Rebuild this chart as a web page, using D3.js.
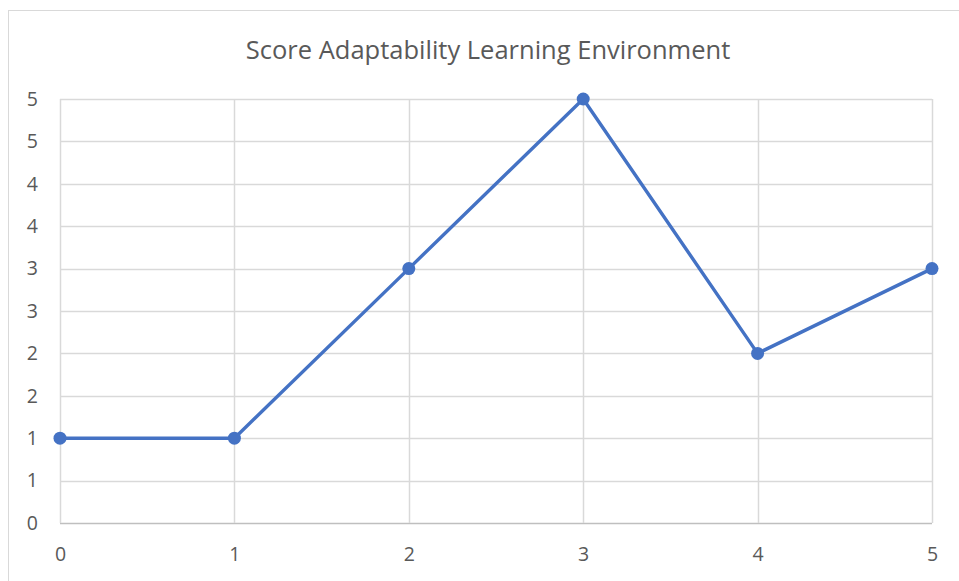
<!DOCTYPE html>
<html>
<head>
<meta charset="utf-8">
<script src="https://cdn.jsdelivr.net/npm/d3@7"></script>
<style>
  body { margin: 0; background: #fff; }
  text { font-family: "Open Sans", "Noto Sans", sans-serif; fill: #595959; }
</style>
</head>
<body>
<svg width="959" height="581"></svg>
<script>
"use strict";

const title = "Score Adaptability Learning Environment";
const xValues = [0, 1, 2, 3, 4, 5];
const yValues = [1, 1, 3, 5, 2, 3];
const yTicks = [0, 0.5, 1, 1.5, 2, 2.5, 3, 3.5, 4, 4.5, 5];

const svg = d3.select("svg");
const margin = { left: 60, right: 27, top: 99, bottom: 58 };
const width = +svg.attr("width");
const height = +svg.attr("height");

// chart border
svg.append("rect")
    .attr("x", 8.5).attr("y", 10.5)
    .attr("width", 960).attr("height", 600)
    .attr("fill", "none")
    .attr("stroke", "#d9d9d9");

const x = d3.scaleLinear()
    .domain([0, 5])
    .range([margin.left, width - margin.right]);

const y = d3.scaleLinear()
    .domain([0, 5])
    .range([height - margin.bottom, margin.top]);

// gridlines
svg.append("g")
    .selectAll("line")
    .data(yTicks)
    .enter().append("line")
    .attr("x1", x(0)).attr("x2", x(5))
    .attr("y1", d => Math.round(y(d)) + 0.5)
    .attr("y2", d => Math.round(y(d)) + 0.5)
    .attr("stroke", d => d === 0 ? "#bfbfbf" : "#d9d9d9")
    .attr("stroke-width", 1.5);

svg.append("g")
    .selectAll("line")
    .data(xValues)
    .enter().append("line")
    .attr("x1", d => Math.round(x(d)) + 0.5)
    .attr("x2", d => Math.round(x(d)) + 0.5)
    .attr("y1", y(0)).attr("y2", y(5))
    .attr("stroke", "#d9d9d9")
    .attr("stroke-width", 1.5);

// y axis labels
const yAxis = d3.axisLeft(y)
    .tickValues(yTicks)
    .tickFormat(d => Math.round(d))
    .tickSize(0)
    .tickPadding(22);
const gy = svg.append("g")
    .attr("transform", `translate(${x(0)},0)`)
    .call(yAxis);
gy.select(".domain").remove();
gy.selectAll("text").attr("font-size", 19.5).attr("fill", "#595959")
    .style("font-family", "'Open Sans', sans-serif");

// x axis labels
const xAxis = d3.axisBottom(x)
    .tickValues(xValues)
    .tickFormat(d3.format("d"))
    .tickSize(0)
    .tickPadding(24);
const gx = svg.append("g")
    .attr("transform", `translate(0,${y(0)})`)
    .call(xAxis);
gx.select(".domain").remove();
gx.selectAll("text").attr("font-size", 19.5).attr("fill", "#595959")
    .style("font-family", "'Open Sans', sans-serif");

// line
const line = d3.line()
    .x((d, i) => x(xValues[i]))
    .y(d => y(d));

svg.append("path")
    .datum(yValues)
    .attr("d", line)
    .attr("fill", "none")
    .attr("stroke", "#4472c4")
    .attr("stroke-width", 3.4)
    .attr("stroke-linejoin", "round");

svg.selectAll(".dot")
    .data(yValues)
    .enter().append("circle")
    .attr("class", "dot")
    .attr("cx", (d, i) => x(xValues[i]))
    .attr("cy", d => y(d))
    .attr("r", 6.5)
    .attr("fill", "#4472c4");

// title
svg.append("text")
    .attr("x", 488)
    .attr("y", 59)
    .attr("text-anchor", "middle")
    .attr("font-size", 25.5)
    .text(title);
</script>
</body>
</html>
